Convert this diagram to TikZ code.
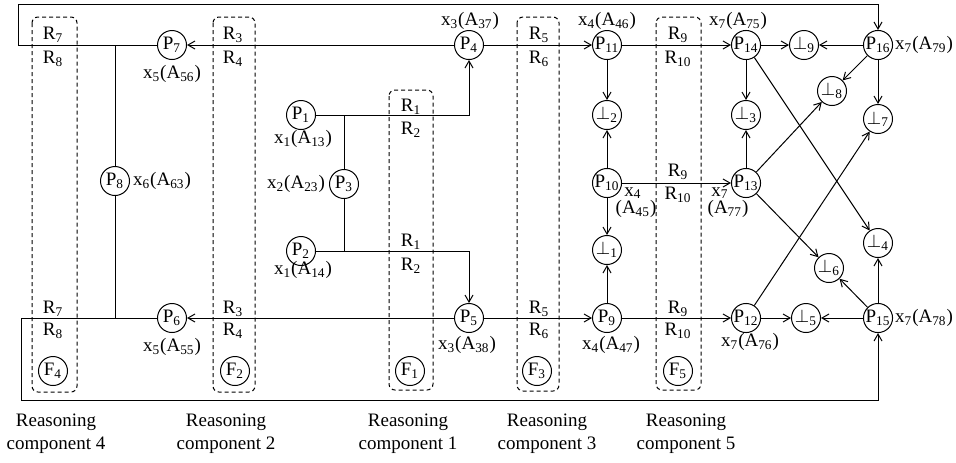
\documentclass[tikz,border=0pt]{standalone}
\usepackage{fontspec}
\setmainfont{Liberation Serif}
\usetikzlibrary{arrows.meta}

\begin{document}
\begin{tikzpicture}[x=0.5pt, y=-0.5pt, line width=0.5pt,
  font=\fontsize{9.5}{11.5}\selectfont,
  pn/.style={draw, circle, inner sep=0pt, minimum size=14.5pt},
  arr/.style={-{Straight Barb[length=3.5pt,width=4pt]}},
  fbox/.style={draw, dash pattern=on 2pt off 1.5pt, rounded corners=3pt},
  lab/.style={inner sep=0pt},
  captxt/.style={align=center, inner sep=0pt}
]
  \useasboundingbox (0,0) rectangle (956,462);

  % reasoning components
  \draw[fbox] (32,17) rectangle (77,392);
  \draw[fbox] (213,17) rectangle (255,392);
  \draw[fbox] (389,90) rectangle (433,390);
  \draw[fbox] (517,17) rectangle (559,391);
  \draw[fbox] (656,17) rectangle (701,390);

  \node[pn] (f4) at (53,371) {F\textsubscript{4}};
  \node[pn] (f2) at (235,371) {F\textsubscript{2}};
  \node[pn] (f1) at (410,371) {F\textsubscript{1}};
  \node[pn] (f3) at (537,371) {F\textsubscript{3}};
  \node[pn] (f5) at (678,371) {F\textsubscript{5}};

  % places
  \node[pn] (p1) at (301,115) {P\textsubscript{1}};
  \node[pn] (p2) at (301,251) {P\textsubscript{2}};
  \node[pn] (p3) at (344,184) {P\textsubscript{3}};
  \node[pn] (p4) at (469,45) {P\textsubscript{4}};
  \node[pn] (p5) at (469,318) {P\textsubscript{5}};
  \node[pn] (p6) at (172,318) {P\textsubscript{6}};
  \node[pn] (p7) at (172,45) {P\textsubscript{7}};
  \node[pn] (p8) at (115,181) {P\textsubscript{8}};
  \node[pn] (p9) at (607,318) {P\textsubscript{9}};
  \node[pn] (p10) at (607,183) {P\textsubscript{10}};
  \node[pn] (p11) at (607,45) {P\textsubscript{11}};
  \node[pn] (p12) at (746,318) {P\textsubscript{12}};
  \node[pn] (p13) at (746,183) {P\textsubscript{13}};
  \node[pn] (p14) at (746,45) {P\textsubscript{14}};
  \node[pn] (p15) at (878,318) {P\textsubscript{15}};
  \node[pn] (p16) at (878,45) {P\textsubscript{16}};

  % contradictions
  \node[pn] (b1) at (607,250) {$\perp$\textsubscript{1}};
  \node[pn] (b2) at (607,115) {$\perp$\textsubscript{2}};
  \node[pn] (b3) at (746,115) {$\perp$\textsubscript{3}};
  \node[pn] (b4) at (878,243) {$\perp$\textsubscript{4}};
  \node[pn] (b5) at (806,318) {$\perp$\textsubscript{5}};
  \node[pn] (b6) at (829,268) {$\perp$\textsubscript{6}};
  \node[pn] (b7) at (878,119) {$\perp$\textsubscript{7}};
  \node[pn] (b8) at (832,91) {$\perp$\textsubscript{8}};
  \node[pn] (b9) at (804,45) {$\perp$\textsubscript{9}};

  % labels of places
  \node[lab] (l1) at (303,139) {x\textsubscript{1}(A\textsubscript{13})};
  \node[lab] (l2) at (303,270) {x\textsubscript{1}(A\textsubscript{14})};
  \node[lab] (l3) at (296,184) {x\textsubscript{2}(A\textsubscript{23})};
  \node[lab] (l4) at (470,21) {x\textsubscript{3}(A\textsubscript{37})};
  \node[lab] (l5) at (467,345) {x\textsubscript{3}(A\textsubscript{38})};
  \node[lab] (l6) at (172,347) {x\textsubscript{5}(A\textsubscript{55})};
  \node[lab] (l7) at (172,74) {x\textsubscript{5}(A\textsubscript{56})};
  \node[lab] (l8) at (162,181) {x\textsubscript{6}(A\textsubscript{63})};
  \node[lab] (l9) at (611,345) {x\textsubscript{4}(A\textsubscript{47})};
  \node[lab] (l10a) at (633,193) {x\textsubscript{4}};
  \node[lab] (l10b) at (636,209) {(A\textsubscript{45})};
  \node[lab] (l11) at (607,21) {x\textsubscript{4}(A\textsubscript{46})};
  \node[lab] (l12) at (750,342) {x\textsubscript{7}(A\textsubscript{76})};
  \node[lab] (l13a) at (720,193) {x\textsubscript{7}};
  \node[lab] (l13b) at (728,209) {(A\textsubscript{77})};
  \node[lab] (l14) at (738,21) {x\textsubscript{7}(A\textsubscript{75})};
  \node[lab] (l15) at (924,318) {x\textsubscript{7}(A\textsubscript{78})};
  \node[lab] (l16) at (924,45) {x\textsubscript{7}(A\textsubscript{79})};

  % rules
  \node[lab] (r7t) at (53,35) {R\textsubscript{7}};
  \node[lab] (r8t) at (53,59) {R\textsubscript{8}};
  \node[lab] (r3t) at (233,35) {R\textsubscript{3}};
  \node[lab] (r4t) at (233,59) {R\textsubscript{4}};
  \node[lab] (r5t) at (539,35) {R\textsubscript{5}};
  \node[lab] (r6t) at (539,59) {R\textsubscript{6}};
  \node[lab] (r9t) at (678,35) {R\textsubscript{9}};
  \node[lab] (r10t) at (678,59) {R\textsubscript{10}};
  \node[lab] (r1t) at (411,107) {R\textsubscript{1}};
  \node[lab] (r2t) at (411,130) {R\textsubscript{2}};
  \node[lab] (r9m) at (678,172) {R\textsubscript{9}};
  \node[lab] (r10m) at (678,195) {R\textsubscript{10}};
  \node[lab] (r1b) at (411,242) {R\textsubscript{1}};
  \node[lab] (r2b) at (411,266) {R\textsubscript{2}};
  \node[lab] (r7b) at (53,309) {R\textsubscript{7}};
  \node[lab] (r8b) at (53,331) {R\textsubscript{8}};
  \node[lab] (r3b) at (233,309) {R\textsubscript{3}};
  \node[lab] (r4b) at (233,331) {R\textsubscript{4}};
  \node[lab] (r5b) at (539,309) {R\textsubscript{5}};
  \node[lab] (r6b) at (539,331) {R\textsubscript{6}};
  \node[lab] (r9b) at (678,309) {R\textsubscript{9}};
  \node[lab] (r10b) at (678,331) {R\textsubscript{10}};

  % captions
  \node[captxt] (c4) at (56,434) {Reasoning\\component 4};
  \node[captxt] (c2) at (226,434) {Reasoning\\component 2};
  \node[captxt] (c1) at (408,434) {Reasoning\\component 1};
  \node[captxt] (c3) at (547,434) {Reasoning\\component 3};
  \node[captxt] (c5) at (686,434) {Reasoning\\component 5};

  % connectors
  \coordinate (tl) at (18,4);
  \coordinate (bl) at (21,400);
  \draw[arr] (p7) -| (tl) -| (p16);
  \draw[arr] (p6) -| (bl) -| (p15);
  \draw (p8) -- (p8 |- p7);
  \draw (p8) -- (p8 |- p6);
  \draw (p3) -- (p3 |- p1);
  \draw (p3) -- (p3 |- p2);
  \draw[arr] (p1) -| (p4);
  \draw[arr] (p2) -| (p5);
  \draw[arr] (p4) -- (p7);
  \draw[arr] (p5) -- (p6);
  \draw[arr] (p4) -- (p11);
  \draw[arr] (p5) -- (p9);
  \draw[arr] (p11) -- (p14);
  \draw[arr] (p10) -- (p13);
  \draw[arr] (p9) -- (p12);
  \draw[arr] (p11) -- (b2);
  \draw[arr] (p10) -- (b2);
  \draw[arr] (p10) -- (b1);
  \draw[arr] (p9) -- (b1);
  \draw[arr] (p14) -- (b9);
  \draw[arr] (p16) -- (b9);
  \draw[arr] (p14) -- (b3);
  \draw[arr] (p13) -- (b3);
  \draw[arr] (p16) -- (b8);
  \draw[arr] (p13) -- (b8);
  \draw[arr] (p16) -- (b7);
  \draw[arr] (p12) -- (b7);
  \draw[arr] (p14) -- (b4);
  \draw[arr] (p15) -- (b4);
  \draw[arr] (p13) -- (b6);
  \draw[arr] (p15) -- (b6);
  \draw[arr] (p12) -- (b5);
  \draw[arr] (p15) -- (b5);
\end{tikzpicture}
\end{document}
